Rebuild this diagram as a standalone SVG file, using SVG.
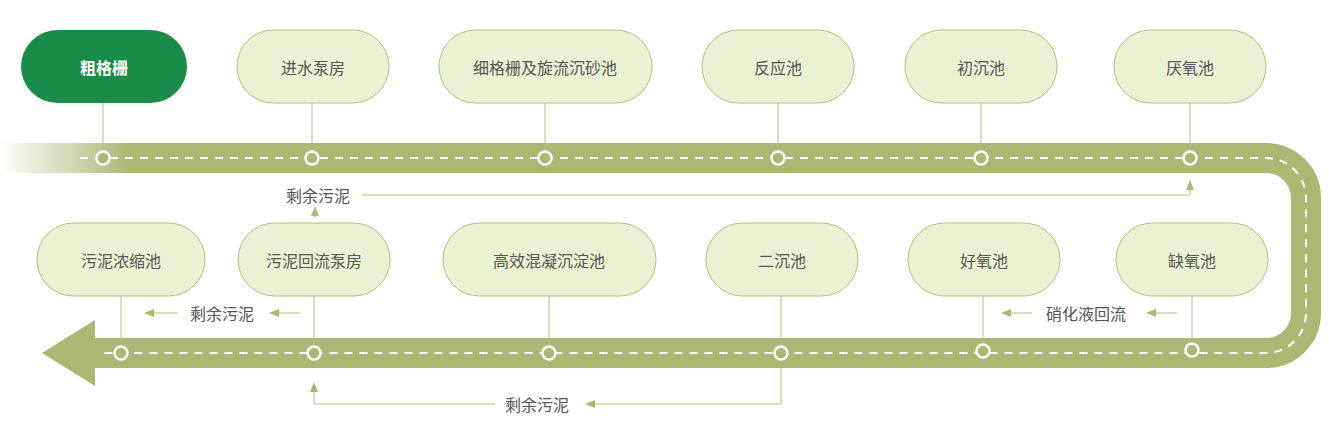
<svg xmlns="http://www.w3.org/2000/svg" width="1329" height="431" viewBox="0 0 1329 431">
<defs>
<linearGradient id="fade" x1="0" x2="1" y1="0" y2="0"><stop offset="0" stop-color="#abb874" stop-opacity="0"/><stop offset="1" stop-color="#abb874"/></linearGradient>
<marker id="ah" viewBox="0 0 10 10" refX="5" refY="5" markerWidth="10" markerHeight="10" orient="auto"><path d="M0,1 L10,5 L0,9 Z" fill="#abb874"/></marker>
<style>
.n rect{fill:#ebf2d3;stroke:#b2c07d;stroke-width:1}
.n text,.lb{font-family:"Noto Sans CJK SC","Noto Sans",sans-serif;font-size:16px;fill:#555;text-anchor:middle;dominant-baseline:central}
.dk rect{fill:#1a8c4a;stroke:none}
.dk text{fill:#fff;font-weight:bold}
.st{stroke:#b2c07d;stroke-width:1;fill:none}
.ar{stroke:#b2c07d;stroke-width:1;fill:none;marker-end:url(#ah)}
.dot{fill:#abb874;stroke:#fff;stroke-width:2.5}
</style>
</defs>
<g id="band">
<rect x="0" y="143" width="130" height="30" fill="url(#fade)"/>
<path d="M130 158 H1266 A40 40 0 0 1 1306 198 V313 A40 40 0 0 1 1266 353 H92" fill="none" stroke="#abb874" stroke-width="30"/>
<path d="M95 320 L42 353 L95 386 Z" fill="#abb874"/>
<path d="M80 158 H1266 A40 40 0 0 1 1306 198 V313 A40 40 0 0 1 1266 353 H100" fill="none" stroke="#fff" stroke-width="2" stroke-dasharray="8 7"/>
</g>
<g id="connectors">
<path class="st" d="M103 103V158M312 103V158M545 103V158M778 103V158M981 103V158M1190 103V158"/>
<path class="st" d="M121 296V353M314 296V353M549 296V353M781 296V353M983 296V353M1192 296V351"/>
<path class="ar" d="M362 195H1190V185"/>
<path class="ar" d="M315 218V211"/>
<path class="ar" d="M178 313H149"/>
<path class="ar" d="M300 313H274"/>
<path class="ar" d="M1032 313H1006"/>
<path class="ar" d="M1177 313H1151"/>
<path class="ar" d="M781 353V404H590"/>
<path class="ar" d="M495 404H314V387"/>
<text class="lb" x="318" y="195">剩余污泥</text>
<text class="lb" x="222" y="313">剩余污泥</text>
<text class="lb" x="1086" y="313">硝化液回流</text>
<text class="lb" x="537" y="404">剩余污泥</text>
</g>
<g id="dots">
<circle class="dot" cx="103" cy="158" r="6.5"/><circle class="dot" cx="312" cy="158" r="6.5"/><circle class="dot" cx="545" cy="158" r="6.5"/><circle class="dot" cx="778" cy="158" r="6.5"/><circle class="dot" cx="981" cy="158" r="6.5"/><circle class="dot" cx="1190" cy="158" r="6.5"/>
<circle class="dot" cx="121" cy="353" r="6.5"/><circle class="dot" cx="314" cy="353" r="6.5"/><circle class="dot" cx="549" cy="353" r="6.5"/><circle class="dot" cx="781" cy="353" r="6.5"/><circle class="dot" cx="983" cy="351" r="6.5"/><circle class="dot" cx="1192" cy="350" r="6.5"/>
</g>
<g id="n1" class="n dk"><rect x="21" y="30" width="166" height="73" rx="36.5"/><text x="104" y="67">粗格栅</text></g>
<g id="n2" class="n"><rect x="237" y="30" width="152" height="73" rx="36.5"/><text x="313" y="67">进水泵房</text></g>
<g id="n3" class="n"><rect x="439" y="30" width="213" height="73" rx="36.5"/><text x="545" y="67">细格栅及旋流沉砂池</text></g>
<g id="n4" class="n"><rect x="702" y="30" width="152" height="73" rx="36.5"/><text x="778" y="67">反应池</text></g>
<g id="n5" class="n"><rect x="905" y="30" width="152" height="73" rx="36.5"/><text x="981" y="67">初沉池</text></g>
<g id="n6" class="n"><rect x="1114" y="30" width="152" height="73" rx="36.5"/><text x="1190" y="67">厌氧池</text></g>
<g id="n7" class="n"><rect x="37" y="223" width="168" height="73" rx="36.5"/><text x="121" y="260">污泥浓缩池</text></g>
<g id="n8" class="n"><rect x="238" y="223" width="152" height="73" rx="36.5"/><text x="314" y="260">污泥回流泵房</text></g>
<g id="n9" class="n"><rect x="443" y="223" width="213" height="73" rx="36.5"/><text x="549" y="260">高效混凝沉淀池</text></g>
<g id="n10" class="n"><rect x="706" y="223" width="152" height="73" rx="36.5"/><text x="782" y="260">二沉池</text></g>
<g id="n11" class="n"><rect x="908" y="223" width="152" height="73" rx="36.5"/><text x="984" y="260">好氧池</text></g>
<g id="n12" class="n"><rect x="1116" y="223" width="152" height="73" rx="36.5"/><text x="1192" y="260">缺氧池</text></g>
</svg>
